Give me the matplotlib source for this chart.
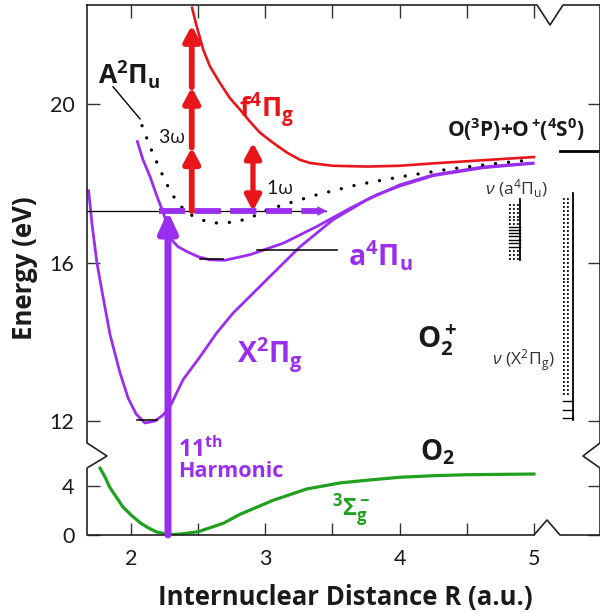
import numpy as np
import matplotlib
matplotlib.use('Agg')
import matplotlib.pyplot as plt
from matplotlib.ticker import NullLocator

plt.rcParams['font.family'] = ['Lato', 'DejaVu Sans']
plt.rcParams['mathtext.fontset'] = 'custom'
plt.rcParams['mathtext.rm'] = 'Open Sans'
plt.rcParams['mathtext.it'] = 'Open Sans:italic'
plt.rcParams['mathtext.bf'] = 'Open Sans:bold'

PURPLE = '#9A2EEE'
RED = '#E8161B'
GREEN = '#1FA01F'
INK = '#1a1a1a'

# === Potential curves: R (a.u.), E (eV) ===
# O2 X3Sigma_g^-
r_o2 = [1.77, 1.81, 1.84, 1.89, 1.94, 2.00, 2.07, 2.13, 2.19, 2.28, 2.37, 2.50,
        2.69, 2.81, 3.06, 3.31, 3.56, 3.76, 4.00, 4.25, 4.50, 5.00]
e_o2 = [5.50, 4.70, 3.96, 3.13, 2.31, 1.65, 0.99, 0.58, 0.25, 0.03, 0.08, 0.27,
        0.98, 1.70, 2.87, 3.80, 4.30, 4.52, 4.76, 4.89, 4.97, 5.03]

# O2+ X2Pi_g
r_x = [1.684, 1.710, 1.745, 1.782, 1.844, 1.918, 1.978, 2.037, 2.104, 2.179, 2.238,
       2.290, 2.387, 2.514, 2.638, 2.760, 3.010, 3.258, 3.504, 3.755, 4.002, 4.249,
       4.621, 4.993]
e_x = [17.81, 16.95, 16.02, 15.31, 14.18, 13.22, 12.59, 12.19, 11.96, 12.01, 12.16,
       12.37, 13.05, 13.63, 14.23, 14.73, 15.57, 16.40, 17.08, 17.58, 17.96, 18.21,
       18.41, 18.51]

# O2+ a4Pi_u
r_a = [2.047, 2.089, 2.141, 2.194, 2.241, 2.303, 2.350, 2.415, 2.499, 2.588, 2.700,
       2.886, 3.134, 3.383, 3.631, 3.829, 4.003, 4.249, 4.621, 4.993]
e_a = [19.05, 18.59, 18.17, 17.66, 17.25, 16.57, 16.40, 16.28, 16.15, 16.07, 16.06,
       16.20, 16.49, 16.91, 17.37, 17.71, 17.93, 18.19, 18.39, 18.50]

# O2+ A2Pi_u (dotted)
r_A = [2.082, 2.141, 2.216, 2.290, 2.343, 2.417, 2.491, 2.588, 2.685, 2.789, 2.901,
       3.013, 3.206, 3.385, 3.683, 4.003, 4.375, 4.748, 4.993]
e_A = [19.45, 18.92, 18.34, 17.81, 17.53, 17.25, 17.13, 17.00, 17.00, 17.03, 17.15,
       17.33, 17.53, 17.71, 17.96, 18.16, 18.36, 18.51, 18.59]

# O2+ f4Pi_g
r_f = [2.454, 2.489, 2.538, 2.588, 2.663, 2.737, 2.812, 2.886, 2.961, 3.057, 3.162,
       3.258, 3.333, 3.500, 3.760, 4.000, 4.250, 4.620, 5.000]
e_f = [22.42, 21.95, 21.36, 20.94, 20.52, 20.14, 19.85, 19.55, 19.27, 19.02, 18.77,
       18.59, 18.51, 18.44, 18.42, 18.44, 18.50, 18.58, 18.66]

# ionisation level and photon steps
e_ion = 17.30
r_harm = 2.275
r_3w = 2.452
e_3w_heads = [18.90, 20.42, 21.98]
r_1w = 2.908
e_1w_top = 19.02
e_limit = 18.82

# vibrational ladders
e_vib_a_dot = [17.46, 17.35, 17.26, 17.16, 17.07, 16.98, 16.30, 16.20, 16.09]
e_vib_a_solid = [16.91, 16.83, 16.74, 16.66, 16.57, 16.49, 16.40]
e_vib_x_dot = [17.60, 17.50, 17.40, 17.30, 17.20, 17.10, 17.00, 16.90, 16.80, 16.70,
               16.60, 16.50, 16.40, 16.30, 16.20, 16.10, 16.00, 15.90, 15.80, 15.70,
               15.60, 15.50, 15.40, 15.30, 15.20, 15.10, 15.00, 14.90, 14.80, 14.70,
               14.60, 14.50, 14.40, 14.30, 14.20, 14.10, 14.00, 13.90, 13.80, 13.70,
               13.60, 13.50, 13.40, 13.30, 13.20, 13.10, 13.00, 12.90, 12.80, 12.70]
e_vib_x_solid = [12.52, 12.29, 12.08]

x_ticks = [2, 3, 4, 5]
x_minor = [2.5, 3.5, 4.5]
y_ticks = [0, 4, 12, 16, 20]


# === Broken energy axis (0..6.6 eV squeezed, gap removed) ===
E_LO, E_HI = 6.6, 11.156
K_LO, K_HI, K_GAP = 12.125, 39.69, 0.01


def e_to_pos(e):
    e = np.asarray(e, dtype=float)
    p1 = E_LO * K_LO
    p2 = p1 + (E_HI - E_LO) * K_GAP
    return np.where(e < E_LO, e * K_LO,
                    np.where(e < E_HI, p1 + (e - E_LO) * K_GAP, p2 + (e - E_HI) * K_HI))


def pos_to_e(p):
    p = np.asarray(p, dtype=float)
    p1 = E_LO * K_LO
    p2 = p1 + (E_HI - E_LO) * K_GAP
    return np.where(p < p1, p / K_LO,
                    np.where(p < p2, E_LO + (p - p1) / K_GAP, E_HI + (p - p2) / K_HI))


fig = plt.figure(figsize=(6.0, 6.13), dpi=100)
ax = fig.add_axes([87 / 600, 78 / 613, 513 / 600, 530 / 613])
ax.set_yscale('function', functions=(e_to_pos, pos_to_e))
ax.set_xlim(1.672, 5.492)
ax.set_ylim(0, 22.49)


def arrow(x0, e0, x1, e1, color, lw, style, ms=10):
    ax.annotate('', xy=(x1, e1), xytext=(x0, e0),
                arrowprops=dict(arrowstyle=style, color=color, lw=lw,
                                shrinkA=0, shrinkB=0, mutation_scale=ms))


# === Curves ===
ax.plot(r_o2, e_o2, color=GREEN, lw=2.3)
ax.plot(r_x, e_x, color=PURPLE, lw=2.0)
ax.plot(r_a, e_a, color=PURPLE, lw=2.0)
ax.plot(r_f, e_f, color=RED, lw=1.9)
ax.plot(r_A, e_A, color='k', lw=2.4, ls=(0, (0.01, 3.9)), dash_capstyle='round')

# level marks and leader lines
ax.plot([2.045, 2.19], [12.03, 12.03], color='k', lw=1.1)
ax.plot([2.51, 2.685], [16.09, 16.09], color='k', lw=1.1)
ax.plot([2.936, 3.531], [16.32, 16.32], color='k', lw=1.1)
ax.plot([1.866, 2.067], [20.43, 19.62], color='k', lw=1.0)
ax.plot([1.672, 3.45], [e_ion, e_ion], color='k', lw=0.9)

# 11th harmonic and photon arrows
arrow(r_harm, 0, r_harm, e_ion, PURPLE, 5, '-|>,head_length=1.2,head_width=0.55')
ax.plot([r_harm - 0.07, 3.40], [e_ion, e_ion], color=PURPLE, lw=4.2,
        ls=(0, (4.5, 1.6)), solid_capstyle='butt')
arrow(3.38, e_ion, 3.46, e_ion, PURPLE, 0, '-|>,head_length=0.7,head_width=0.35')
starts = [e_ion] + e_3w_heads[:-1]
for e0, e1 in zip(starts, e_3w_heads):
    arrow(r_3w, e0, r_3w, e1, RED, 4.2, '-|>,head_length=0.9,head_width=0.48')
arrow(r_1w, e_ion, r_1w, e_1w_top, RED, 3.8, '<|-|>,head_length=0.9,head_width=0.48')

# dissociation limit
ax.plot([5.194, 5.50], [e_limit, e_limit], color='k', lw=2.0, clip_on=False)

# vibrational ladders
ax.plot([4.896, 4.896], [16.06, 17.60], color='k', lw=1.3)
for e in e_vib_a_solid:
    ax.plot([4.815, 4.896], [e, e], color='k', lw=1.0)
for e in e_vib_a_dot:
    ax.plot([4.815, 4.890], [e, e], color='k', lw=1.3, ls=(0, (1, 1.2)))
ax.plot([5.291, 5.291], [12.04, 17.76], color='k', lw=1.3)
for e in e_vib_x_solid:
    ax.plot([5.217, 5.291], [e, e], color='k', lw=1.0)
for e in e_vib_x_dot:
    ax.plot([5.217, 5.278], [e, e], color='k', lw=1.3, ls=(0, (1, 1.2)))

# === Labels ===
ax.text(1.985, 20.73, r'$\mathbf{A^2\Pi_u}$', fontsize=19, color=INK, ha='center', va='center')
ax.text(2.305, 19.17, r'3$\mathrm{\omega}$', fontsize=14, color=INK, ha='center', va='center')
ax.text(3.109, 17.88, r'1$\mathrm{\omega}$', fontsize=14, color=INK, ha='center', va='center')
ax.text(3.013, 19.85, r'$\mathbf{f^4\Pi_g}$', fontsize=19.5, color=RED, ha='center', va='center')
ax.text(4.867, 19.34, r'$\mathbf{O(^3P){+}O^+\!(^4S^0)}$', fontsize=15, color=INK,
        ha='center', va='center')
ax.text(4.874, 17.86, r'$\nu\ (\mathrm{a}^4\Pi_\mathrm{u})$', fontsize=12.5, color='#333',
        ha='center', va='center')
ax.text(3.854, 16.17, r'$\mathbf{a^4\Pi_u}$', fontsize=20.5, color=PURPLE, ha='center', va='center')
ax.text(3.035, 13.68, r'$\mathbf{X^2\Pi_g}$', fontsize=20.5, color=PURPLE, ha='center', va='center')
ax.text(4.279, 14.05, r'$\mathbf{O_2^+}$', fontsize=21, color=INK, ha='center', va='center')
ax.text(4.919, 13.55, r'$\nu\ (\mathrm{X}^2\Pi_\mathrm{g})$', fontsize=12.5, color='#333',
        ha='center', va='center')
ax.text(2.35, 11.33, r'$\mathbf{11^{th}}$', fontsize=16.5, color=PURPLE, ha='left', va='center')
ax.text(2.35, 5.20, 'Harmonic', fontsize=15.5, fontweight='bold', family='Open Sans',
        color=PURPLE, ha='left', va='center')
ax.text(4.279, 11.23, r'$\mathbf{O_2}$', fontsize=20, color=INK, ha='center', va='center')
ax.text(3.638, 2.06, r'$\mathbf{{}^3\Sigma_g^-}$', fontsize=17, color=GREEN, ha='center', va='center')

# === Axes, ticks and broken frame ===
for s in ax.spines.values():
    s.set_visible(False)
ax.set_xticks(x_ticks)
ax.set_xticklabels([str(t) for t in x_ticks])
ax.set_xticks(x_minor, minor=True)
ax.set_yticks(y_ticks)
ax.set_yticklabels([str(t) for t in y_ticks])
ax.yaxis.set_minor_locator(NullLocator())
ax.tick_params(axis='both', which='both', direction='in', color='#333',
               labelcolor=INK, labelsize=15.5, width=1.0)
ax.tick_params(axis='x', which='both', top=True, length=9, pad=10)
ax.tick_params(axis='y', which='both', left=True, right=True, length=9, pad=9)


def fx(px):
    return (px - 87) / 513


def fy(py):
    return (535 - py) / 530


frame = [(0, 1), (0, fy(443)), (fx(107), fy(456)), (0, fy(468)), (0, 0),
         (fx(534), 0), (fx(547), fy(520)), (fx(560), 0), (1, 0),
         (1, fy(468)), (fx(583), fy(456)), (1, fy(443)), (1, 1),
         (fx(563), 1), (fx(550), fy(25)), (fx(537), 1), (0, 1)]
fxs, fys = zip(*frame)
ax.plot(fxs, fys, transform=ax.transAxes, clip_on=False, color='#222', lw=1.2)

fig.text(345 / 600, 1 - 597 / 613, 'Internuclear Distance R (a.u.)', fontsize=18.5,
         fontweight='bold', family='Open Sans', color=INK, ha='center', va='center')
fig.text(25 / 600, 1 - 268 / 613, 'Energy (eV)', fontsize=18.5, fontweight='bold',
         family='Open Sans', color=INK, ha='center', va='center', rotation=90)

fig.savefig('out.png', dpi=100)
